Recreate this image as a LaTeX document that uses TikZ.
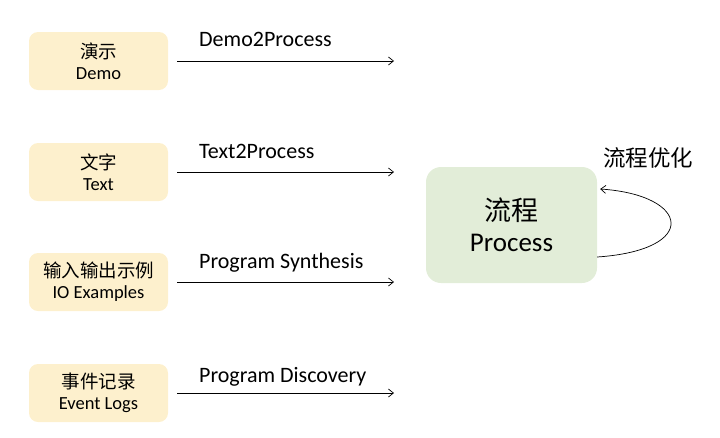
\documentclass[tikz,border=0pt]{standalone}
\usepackage{fontspec}
\setmainfont{Carlito}
\newfontfamily\cjk{Noto Sans CJK SC}
\usetikzlibrary{arrows.meta}
\definecolor{cream}{RGB}{253,240,205}
\definecolor{paleg}{RGB}{226,237,216}
\begin{document}
\begin{tikzpicture}[x=1pt,y=-1pt,
  srcbox/.style={fill=cream,rounded corners=9pt,minimum width=139pt,minimum height=58pt,align=center,inner sep=0pt,font=\fontsize{18.5}{21}\selectfont},
  flow/.style={-{Straight Barb[length=5pt,width=8pt]},line width=0.7pt},
  lab/.style={anchor=west,font=\fontsize{22}{26}\selectfont,inner sep=0pt}]
\useasboundingbox (0,0) rectangle (720,437);
\node[srcbox] (demo) at (98.5,61) {{\cjk 演示}\\Demo};
\node[srcbox] (text) at (98.5,172) {{\cjk 文字}\\Text};
\node[srcbox] (io) at (98.5,282) {{\cjk 输入输出示例}\\IO Examples};
\node[srcbox] (ev) at (98.5,393) {{\cjk 事件记录}\\Event Logs};
\coordinate (e1) at (394,61);
\coordinate (e2) at (394,172);
\coordinate (e3) at (394,282);
\coordinate (e4) at (394,393);
\draw[flow] ([xshift=9pt]demo.east) -- (e1);
\draw[flow] ([xshift=9pt]text.east) -- (e2);
\draw[flow] ([xshift=9pt]io.east) -- (e3);
\draw[flow] ([xshift=9pt]ev.east) -- (e4);
\node[lab] (l1) at (199,39) {Demo2Process};
\node[lab] (l2) at (199,151) {Text2Process};
\node[lab] (l3) at (199,263) {Program Synthesis};
\node[lab] (l4) at (199,377) {Program Discovery};
\node[fill=paleg,rounded corners=15pt,minimum width=171pt,minimum height=116pt,align=center,inner sep=0pt,font=\fontsize{27}{31}\selectfont] (proc) at (511.5,225)
  {{\cjk 流程}\\Process};
\coordinate (ls) at ([yshift=-32pt]proc.east);
\coordinate (le) at ([xshift=3pt,yshift=36pt]proc.east);
\draw[flow] (ls) .. controls (700,250) and (690,195) .. (le);
\node[anchor=west,inner sep=0pt,font=\cjk\fontsize{22.5}{26}\selectfont] (opt) at (603,158) {流程优化};
\end{tikzpicture}
\end{document}
